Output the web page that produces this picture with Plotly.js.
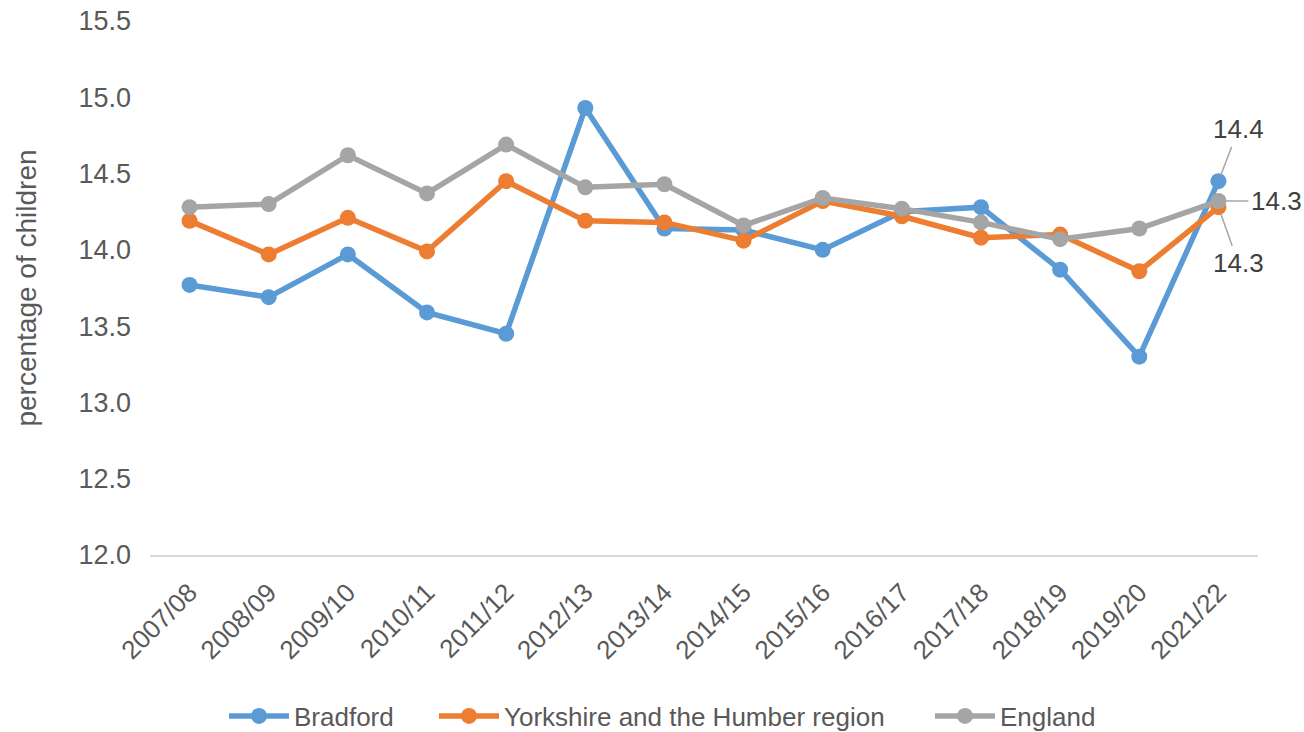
<!DOCTYPE html>
<html>
<head>
<meta charset="utf-8">
<script src="https://cdn.plot.ly/plotly-3.0.1.min.js"></script>
<style>html,body{margin:0;padding:0;background:#fff;}#chart{width:1304px;height:732px;}</style>
</head>
<body>
<div id="chart"></div>
<script>
const years = ["2007/08","2008/09","2009/10","2010/11","2011/12","2012/13","2013/14","2014/15","2015/16","2016/17","2017/18","2018/19","2019/20","2021/22"];
const bradford = [13.77,13.69,13.97,13.59,13.45,14.93,14.14,14.13,14.00,14.25,14.28,13.87,13.30,14.45];
const yorkshire = [14.19,13.97,14.21,13.99,14.45,14.19,14.18,14.06,14.32,14.22,14.08,14.10,13.86,14.28];
const england = [14.28,14.30,14.62,14.37,14.69,14.41,14.43,14.16,14.34,14.27,14.18,14.07,14.14,14.32];
const yTicks = [12.0,12.5,13.0,13.5,14.0,14.5,15.0,15.5];

const FONT = "Liberation Sans, Arial, sans-serif";
const TXT = "#595959";
function series(name, y, color, leg){
  return {x: years, y: y, name: name, type: "scatter", mode: "lines+markers", legend: leg,
    line: {color: color, width: 5.5}, marker: {color: color, size: 16}};
}
const data = [
  series("Bradford", bradford, "#5b9bd5", "legend"),
  series("Yorkshire and the Humber region", yorkshire, "#ed7d31", "legend2"),
  series("England", england, "#a5a5a5", "legend3")
];
const last = years.length - 1;
function lab(y, ax, ay, xanchor){
  return {x: years[last], y: y[last], xref: "x", yref: "y", text: y[last].toFixed(1),
    showarrow: true, arrowhead: 0, arrowwidth: 1.5, arrowcolor: "#a6a6a6",
    ax: ax, ay: ay, standoff: 7, borderpad: 2, xanchor: xanchor || "auto",
    font: {family: FONT, size: 26, color: "#404040"}};
}
function leg(px){
  return {orientation: "h", xref: "container", yref: "container", x: px / 1304, xanchor: "left",
    y: 1 - 716 / 732, yanchor: "middle", font: {family: FONT, size: 26, color: TXT}, itemwidth: 60,
    bgcolor: "rgba(0,0,0,0)"};
}
const layout = {
  width: 1304, height: 732,
  margin: {l: 150, r: 46, t: 21, b: 177},
  paper_bgcolor: "#fff", plot_bgcolor: "#fff",
  font: {family: FONT, size: 26, color: TXT},
  showlegend: true,
  legend: leg(224),
  legend2: leg(434),
  legend3: leg(930),
  xaxis: {type: "category", range: [-0.5, years.length - 0.5], tickangle: -45, automargin: false,
    showgrid: false, zeroline: false, showline: true, linecolor: "#d9d9d9", linewidth: 2,
    ticks: "", ticklabelstandoff: 10, tickfont: {family: FONT, size: 26, color: TXT}},
  yaxis: {range: [12, 15.5], tickvals: yTicks, ticktext: yTicks.map(v => v.toFixed(1)), automargin: false,
    showgrid: false, zeroline: false, showline: false, ticks: "", ticklabelstandoff: 18,
    tickfont: {family: FONT, size: 27, color: TXT},
    title: {text: "percentage of children", font: {family: FONT, size: 28, color: TXT}, standoff: 33}},
  annotations: [
    lab(bradford, 20, -52),
    lab(england, 30, 0, "left"),
    lab(yorkshire, 20, 56)
  ]
};
Plotly.newPlot("chart", data, layout, {displayModeBar: false, staticPlot: true});
</script>
</body>
</html>
